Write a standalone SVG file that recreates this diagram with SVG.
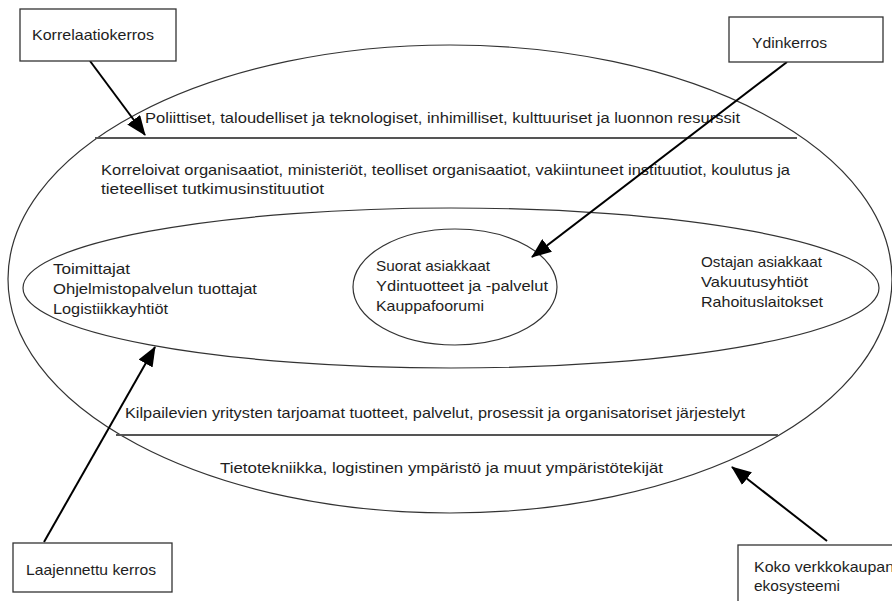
<svg xmlns="http://www.w3.org/2000/svg" width="892" height="601" viewBox="0 0 892 601">
<defs>
<style>
.t{font-family:"Liberation Sans","Open Sans",sans-serif;font-size:14.5px;fill:#1e1e1e}
.el{fill:none;stroke:#333;stroke-width:1.2}
.hl{stroke:#555;stroke-width:1.8}
.box{fill:#fff;stroke:#333;stroke-width:1.3}
.arr{stroke:#000;stroke-width:2;fill:none;marker-end:url(#ah)}
</style>
<marker id="ah" markerUnits="userSpaceOnUse" markerWidth="20" markerHeight="16" viewBox="0 0 20 16" refX="19" refY="8" orient="auto">
<path d="M0,0 L20,8 L0,16 Z" fill="#000"/>
</marker>
</defs>
<rect width="892" height="601" fill="#fff"/>
<g id="outer">
<ellipse class="el" cx="450" cy="279" rx="442" ry="234"/>
<line class="hl" x1="95" y1="138" x2="797" y2="138"/>
<line class="hl" x1="116" y1="435" x2="778" y2="435"/>
<text class="t" x="145" y="123" textLength="595" lengthAdjust="spacingAndGlyphs">Poliittiset, taloudelliset ja teknologiset, inhimilliset, kulttuuriset ja luonnon resurssit</text>
<text class="t" x="101" y="175" textLength="689" lengthAdjust="spacingAndGlyphs">Korreloivat organisaatiot, ministeriöt, teolliset organisaatiot, vakiintuneet instituutiot, koulutus ja</text>
<text class="t" x="101" y="194" textLength="223" lengthAdjust="spacingAndGlyphs">tieteelliset tutkimusinstituutiot</text>
<text class="t" x="125" y="418" textLength="620" lengthAdjust="spacingAndGlyphs">Kilpailevien yritysten tarjoamat tuotteet, palvelut, prosessit ja organisatoriset järjestelyt</text>
<text class="t" x="220" y="473" textLength="443" lengthAdjust="spacingAndGlyphs">Tietotekniikka, logistinen ympäristö ja muut ympäristötekijät</text>
</g>
<g id="middle">
<ellipse class="el" cx="451" cy="288" rx="428" ry="80"/>
<text class="t" x="53" y="274" textLength="77" lengthAdjust="spacingAndGlyphs">Toimittajat</text>
<text class="t" x="53" y="294" textLength="204" lengthAdjust="spacingAndGlyphs">Ohjelmistopalvelun tuottajat</text>
<text class="t" x="53" y="314" textLength="115" lengthAdjust="spacingAndGlyphs">Logistiikkayhtiöt</text>
<text class="t" x="701" y="267" textLength="121" lengthAdjust="spacingAndGlyphs">Ostajan asiakkaat</text>
<text class="t" x="701" y="287" textLength="107" lengthAdjust="spacingAndGlyphs">Vakuutusyhtiöt</text>
<text class="t" x="701" y="307" textLength="122" lengthAdjust="spacingAndGlyphs">Rahoituslaitokset</text>
</g>
<g id="inner">
<ellipse class="el" cx="455" cy="287" rx="102" ry="58"/>
<text class="t" x="376" y="271" textLength="114" lengthAdjust="spacingAndGlyphs">Suorat asiakkaat</text>
<text class="t" x="376" y="291" textLength="172" lengthAdjust="spacingAndGlyphs">Ydintuotteet ja -palvelut</text>
<text class="t" x="376" y="311" textLength="108" lengthAdjust="spacingAndGlyphs">Kauppafoorumi</text>
</g>
<g id="connectors">
<line class="arr" x1="90" y1="61" x2="145" y2="135"/>
<line class="arr" x1="787" y1="62" x2="532" y2="257"/>
<line class="arr" x1="44" y1="542" x2="155" y2="347"/>
<line class="arr" x1="827" y1="541" x2="732" y2="467"/>
</g>
<g id="box-korrelaatio">
<rect class="box" x="20" y="9" width="156" height="52"/>
<text class="t" x="32" y="40" textLength="122" lengthAdjust="spacingAndGlyphs">Korrelaatiokerros</text>
</g>
<g id="box-ydin">
<rect class="box" x="729" y="17" width="154" height="45"/>
<text class="t" x="752" y="48" textLength="75" lengthAdjust="spacingAndGlyphs">Ydinkerros</text>
</g>
<g id="box-laajennettu">
<rect class="box" x="13" y="543" width="159" height="49"/>
<text class="t" x="26" y="575" textLength="130" lengthAdjust="spacingAndGlyphs">Laajennettu kerros</text>
</g>
<g id="box-koko">
<rect class="box" x="738" y="545" width="170" height="70"/>
<text class="t" x="754" y="572" textLength="140" lengthAdjust="spacingAndGlyphs">Koko verkkokaupan</text>
<text class="t" x="754" y="591" textLength="86" lengthAdjust="spacingAndGlyphs">ekosysteemi</text>
</g>
</svg>
